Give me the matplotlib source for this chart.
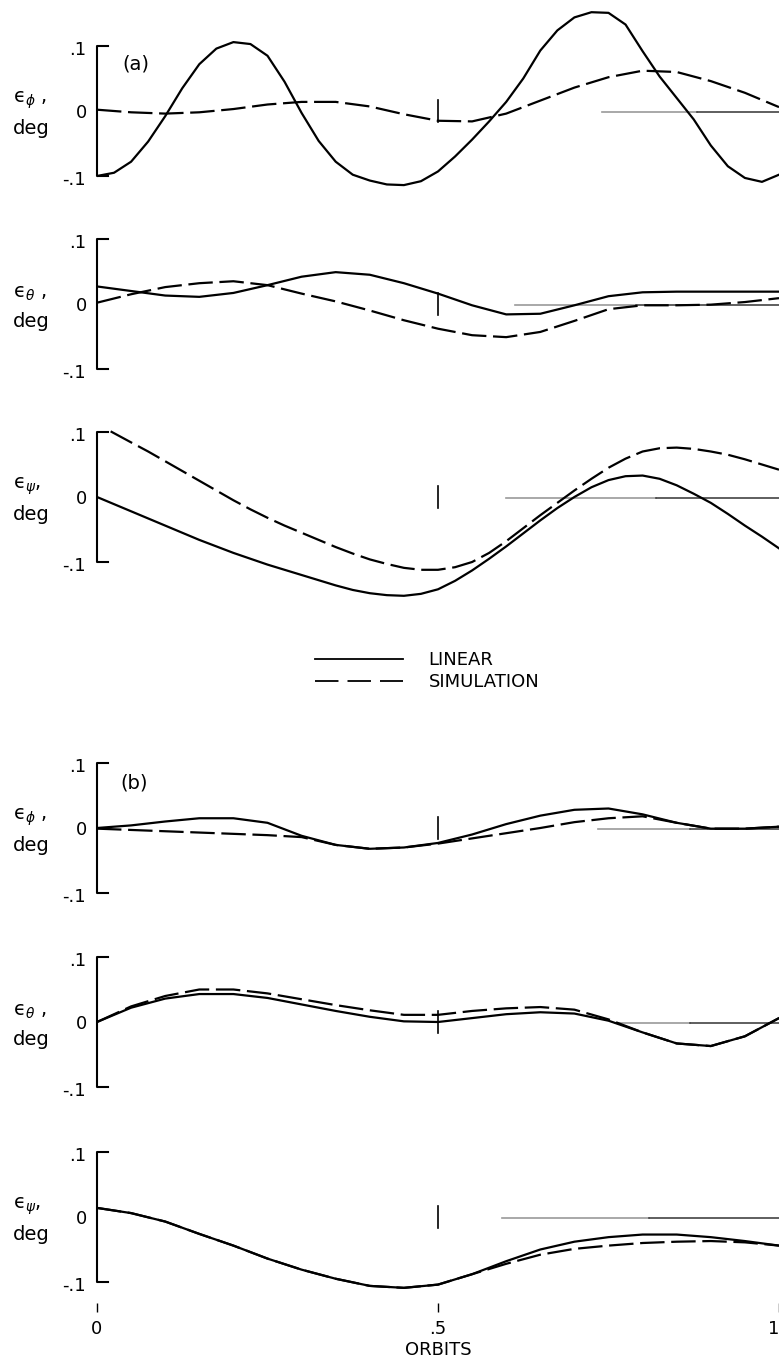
import numpy as np
import matplotlib
matplotlib.use('Agg')
import matplotlib.pyplot as plt
from matplotlib.lines import Line2D

plt.rcParams['font.family'] = 'DejaVu Sans'
plt.rcParams['mathtext.fontset'] = 'dejavusans'

##################################
#            DADOS               #
##################################

# orbits (x axis)
orb20 = [0, .05, .10, .15, .20, .25, .30, .35, .40, .45, .50,
         .55, .60, .65, .70, .75, .80, .85, .90, .95, 1.0]
orb40 = [0, .025, .05, .075, .10, .125, .15, .175, .20, .225, .25, .275,
         .30, .325, .35, .375, .40, .425, .45, .475, .50, .525, .55, .575,
         .60, .625, .65, .675, .70, .725, .75, .775, .80, .825, .85, .875,
         .90, .925, .95, .975, 1.0]
orb_psi_sim = [.02, .05, .075, .10, .125, .15, .175, .20, .225, .25, .275,
               .30, .325, .35, .375, .40, .425, .45, .475, .50, .525, .55, .575,
               .60, .625, .65, .675, .70, .725, .75, .775, .80, .825, .85, .875,
               .90, .925, .95, .975, 1.0]

# (a) epsilon phi
a_phi_lin = [-.100, -.095, -.078, -.047, -.008, .035, .072, .096, .106, .103,
             .085, .045, -.003, -.046, -.078, -.098, -.107, -.113, -.114, -.108,
             -.093, -.070, -.044, -.016, .014, .050, .093, .124, .144, .152,
             .151, .133, .092, .053, .020, -.013, -.053, -.085, -.103, -.109, -.098]
a_phi_sim = [.002, -.002, -.004, -.002, .003, .010, .014, .014, .007, -.005,
             -.015, -.016, -.004, .016, .036, .052, .062, .060, .046, .028, .006]

# (a) epsilon theta
a_theta_lin = [.027, .020, .013, .011, .017, .029, .042, .049, .045, .032, .016,
               -.002, -.016, -.015, -.002, .012, .018, .019, .019, .019, .019]
a_theta_sim = [.002, .015, .026, .032, .035, .029, .016, .004, -.010, -.025, -.038,
               -.048, -.051, -.043, -.026, -.008, -.002, -.002, -.001, .003, .009]

# (a) epsilon psi
a_psi_lin = [0, -.011, -.022, -.033, -.044, -.055, -.066, -.076, -.086, -.095,
             -.104, -.112, -.120, -.128, -.136, -.143, -.148, -.151, -.152, -.149,
             -.142, -.129, -.113, -.095, -.076, -.056, -.036, -.017, 0, .015,
             .026, .032, .033, .028, .018, .005, -.009, -.026, -.044, -.061, -.079]
a_psi_sim = [.101, .084, .070, .055, .040, .025, .010, -.005, -.019, -.032, -.044,
             -.055, -.066, -.077, -.087, -.096, -.103, -.109, -.112, -.112, -.108,
             -.100, -.086, -.068, -.048, -.028, -.009, .010, .028, .045, .059,
             .070, .075, .076, .074, .070, .065, .058, .050, .042]

# (b) epsilon phi
b_phi_lin = [0, .004, .010, .015, .015, .008, -.012, -.026, -.032, -.030, -.023,
             -.010, .006, .019, .028, .030, .021, .008, -.001, -.001, .002]
b_phi_sim = [-.001, -.003, -.005, -.007, -.009, -.011, -.014, -.026, -.032, -.030, -.024,
             -.016, -.008, 0, .009, .015, .018, .008, -.001, -.001, .002]

# (b) epsilon theta
b_theta_lin = [0, .022, .036, .043, .043, .037, .027, .017, .008, .001, 0,
               .006, .012, .015, .013, .002, -.016, -.033, -.037, -.022, .006]
b_theta_sim = [0, .024, .040, .050, .050, .044, .035, .026, .018, .011, .011,
               .017, .021, .023, .019, .004, -.016, -.033, -.037, -.022, .006]

# (b) epsilon psi
b_psi_lin = [.014, .006, -.007, -.026, -.044, -.064, -.081, -.095, -.106, -.109, -.104,
             -.088, -.068, -.050, -.038, -.031, -.027, -.027, -.031, -.037, -.044]
b_psi_sim = [.014, .006, -.007, -.026, -.044, -.064, -.081, -.095, -.106, -.109, -.104,
             -.088, -.072, -.058, -.049, -.044, -.040, -.038, -.037, -.039, -.044]

panels = [
    (orb40, a_phi_lin, orb20, a_phi_sim),
    (orb20, a_theta_lin, orb20, a_theta_sim),
    (orb40, a_psi_lin, orb_psi_sim, a_psi_sim),
    (orb20, b_phi_lin, orb20, b_phi_sim),
    (orb20, b_theta_lin, orb20, b_theta_sim),
    (orb20, b_psi_lin, orb20, b_psi_sim),
]
ylabels = [r'ϵ$_\phi$ ,', r'ϵ$_\theta$ ,', r'ϵ$_\psi$,'] * 2
zero_start = [0.74, 0.613, 0.60, 0.735, 0.76, 0.594]
zero_dark = [0.88, 0.79, 0.82, 0.87, 0.87, 0.81]

##################################
#           LAYOUT               #
##################################

W, H = 779, 1371
left_px, width_px = 97, 682
zero_px = [111, 304, 497, 828, 1022, 1217]
scale = 650.0          # px per unit (0.1 = 65 px)
yr = 0.25

fig = plt.figure(figsize=(W / 100, H / 100), dpi=100, facecolor='white')

fs = 13
dash = (0, (11, 3))
lw = 1.6
xl = (13 - left_px) / width_px   # ylabel x in data units
xt = (86 - left_px) / width_px   # tick label x
tl = 11 / width_px               # bracket tick length

axes = []
for i in range(6):
    z = zero_px[i]
    rect = [left_px / W, 1 - (z + yr * scale) / H, width_px / W, 2 * yr * scale / H]
    ax = fig.add_axes(rect)
    ax.set_xlim(0, 1)
    ax.set_ylim(-yr, yr)
    ax.patch.set_alpha(0)
    for s in ax.spines.values():
        s.set_visible(False)
    ax.set_yticks([])
    ax.set_xticks([])

    x1, y1, x2, y2 = panels[i]
    # zero reference line
    ax.plot([zero_start[i], zero_dark[i]], [-0.002, -0.002], color='0.6', lw=1.2)
    ax.plot([zero_dark[i], 1.0], [-0.002, -0.002], color='0.2', lw=1.1)
    ax.plot(x1, y1, color='black', lw=lw, solid_joinstyle='round')
    ax.plot(x2, y2, color='black', lw=lw, linestyle=dash)

    # bracket axis
    ax.plot([tl, 0, 0, tl], [0.1, 0.1, -0.1, -0.1], color='black', lw=1.5, clip_on=False)
    # mid orbit mark
    ax.axvline(0.5, ymin=0.5 - 0.017 / (2 * yr), ymax=0.5 + 0.017 / (2 * yr), color='black', lw=1.2)

    ax.text(xt, 0.094, '.1', ha='right', va='center', fontsize=fs)
    ax.text(xt + 0.002, -0.003, '0', ha='right', va='center', fontsize=fs)
    ax.text(xt, -0.106, '-.1', ha='right', va='center', fontsize=fs)
    ax.text(xl, 0.016, ylabels[i], ha='left', va='center', fontsize=fs + 1)
    ax.text(xl, -0.027, 'deg', ha='left', va='center', fontsize=fs + 1)
    axes.append(ax)

axes[0].text(0.037, 0.072, '(a)', ha='left', va='center', fontsize=fs + 1)
axes[3].text(0.034, 0.069, '(b)', ha='left', va='center', fontsize=fs + 1)

# bottom axis on last panel
ax = axes[5]
ax.spines['bottom'].set_position(('data', -0.132))
ax.set_xticks([0, 0.5, 1.0])
ax.set_xticklabels(['0', '.5', '1'], fontsize=fs)
ax.get_xticklabels()[-1].set_horizontalalignment('right')
ax.tick_params(axis='x', direction='out', length=6.5, width=1.0, pad=6)
ax.set_xlabel('ORBITS', fontsize=fs, labelpad=2)

# legend
handles = [Line2D([], [], color='black', lw=1.3),
           Line2D([], [], color='black', lw=1.3, linestyle=(0, (13, 5)))]
fig.legend(handles, ['LINEAR', 'SIMULATION'], loc='upper left',
           bbox_to_anchor=(315 / W, 1 - 651 / H), frameon=False, fontsize=fs,
           borderpad=0, borderaxespad=0, handlelength=4.9, handletextpad=1.4,
           labelspacing=0.22)

fig.savefig('out.png', dpi=100, facecolor='white')
